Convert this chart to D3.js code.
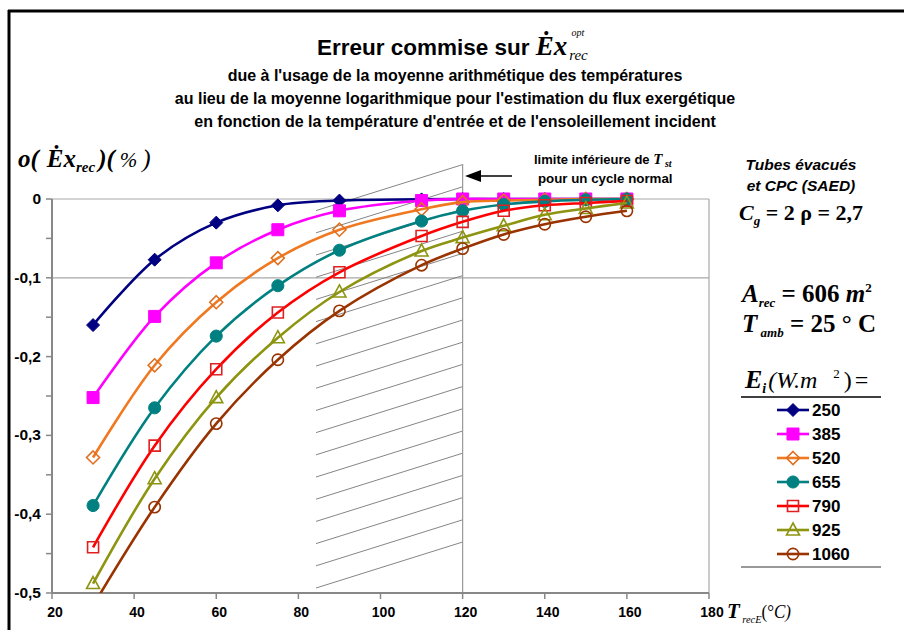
<!DOCTYPE html>
<html><head><meta charset="utf-8">
<script src="https://cdn.jsdelivr.net/npm/d3@7"></script>
<style>
html,body{margin:0;padding:0;background:#fff;}
svg{display:block;}
</style></head>
<body>
<svg id="c" width="904" height="630"></svg>
<script>
// ---- data ----
const temps = [30, 45, 60, 75, 90, 110, 120, 130, 140, 150, 160];
const irradiances = ["250", "385", "520", "655", "790", "925", "1060"];
const s250  = [-0.160, -0.077, -0.030, -0.008, -0.002, -0.0005, 0, 0, 0, 0, 0];
const s385  = [-0.252, -0.149, -0.081, -0.039, -0.015, -0.002, 0, 0, 0, 0, 0];
const s520  = [-0.328, -0.211, -0.131, -0.075, -0.039, -0.013, -0.004, -0.002, -0.001, 0, 0];
const s655  = [-0.389, -0.265, -0.174, -0.110, -0.065, -0.028, -0.015, -0.007, -0.003, -0.001, 0];
const s790  = [-0.442, -0.313, -0.216, -0.144, -0.093, -0.047, -0.029, -0.015, -0.008, -0.005, -0.0025];
const s925  = [-0.488, -0.355, -0.252, -0.176, -0.118, -0.066, -0.049, -0.034, -0.020, -0.012, -0.005];
const s1060 = [-0.516, -0.391, -0.285, -0.204, -0.142, -0.084, -0.063, -0.045, -0.032, -0.0225, -0.015];
const seriesValues = [s250, s385, s520, s655, s790, s925, s1060];
const yTicks = [0, -0.1, -0.2, -0.3, -0.4, -0.5];
const yTickLabels = ["0", "-0,1", "-0,2", "-0,3", "-0,4", "-0,5"];
const yMinorTicks = [-0.05, -0.15, -0.25, -0.35, -0.45];
const xTicks = [20, 40, 60, 80, 100, 120, 140, 160, 180];
const xTickLabels = ["20", "40", "60", "80", "100", "120", "140", "160", "180"];
const gridValues = [0, -0.1];
const limitT = 120;
const hatchFromT = 84.3;

// ---- style ----
const colors = ["#000080", "#FF00FF", "#F07820", "#008080", "#FF0000", "#8C9410", "#993300"];
const markerColors = ["#000080", "#FF00FF", "#E07020", "#008080", "#E02020", "#8C9410", "#993300"];
const symbols = ["diamond", "square", "diamondOpen", "circle", "squareOpen", "triangleOpen", "circleOpen"];
const SANS = "'Liberation Sans', Arial, sans-serif";
const SERIF = "'Liberation Serif', 'Times New Roman', serif";

const svg = d3.select("#c");
const x = d3.scaleLinear().domain([20, 180]).range([52, 709]);
const y = d3.scaleLinear().domain([-0.5, 0]).range([593, 199]);

// frame
svg.append("line").attr("x1", 8).attr("x2", 904).attr("y1", 11).attr("y2", 11).attr("stroke", "#000").attr("stroke-width", 3);
svg.append("line").attr("x1", 9).attr("x2", 9).attr("y1", 10).attr("y2", 630).attr("stroke", "#000").attr("stroke-width", 3);

// title
const t = svg.append("text").attr("x", 317).attr("y", 55).attr("font-family", SANS).attr("font-weight", "bold").attr("font-size", 22.5).attr("fill", "#000");
t.append("tspan").text("Erreur commise sur ");
t.append("tspan").attr("font-family", SERIF).attr("font-style", "italic").attr("font-size", 27).text("Ėx");
t.append("tspan").attr("font-family", SERIF).attr("font-style", "italic").attr("font-weight", "normal").attr("font-size", 10).attr("dy", -19).attr("dx", 4).text("opt");
t.append("tspan").attr("font-family", SERIF).attr("font-style", "italic").attr("font-weight", "normal").attr("font-size", 15).attr("dy", 24).attr("dx", -15).text("rec");

const subs = ["due à l'usage de la moyenne arithmétique des températures",
  "au lieu de la moyenne logarithmique pour l'estimation du flux exergétique",
  "en fonction de la température d'entrée et de l'ensoleillement incident"];
subs.forEach((s, i) => {
  svg.append("text").attr("x", 455).attr("y", 81 + i * 23).attr("text-anchor", "middle")
    .attr("font-family", SANS).attr("font-weight", "bold").attr("font-size", 16).text(s);
});

// gridlines & plot frame
gridValues.forEach(v => {
  svg.append("line").attr("x1", x(20)).attr("x2", x(180)).attr("y1", y(v)).attr("y2", y(v)).attr("stroke", "#a8a8a8").attr("stroke-width", 1.2);
});
svg.append("line").attr("x1", x(180)).attr("x2", x(180)).attr("y1", y(0)).attr("y2", y(-0.5)).attr("stroke", "#a8a8a8").attr("stroke-width", 1.2);

// hatching
const hatch = svg.append("g").attr("stroke", "#777").attr("stroke-width", 0.9);
const hatchRise = 46;
for (let k = 0; k < 18; k++) {
  const yl = y(-0.5) - 5 - k * 22.2;
  hatch.append("line").attr("x1", x(hatchFromT)).attr("y1", yl).attr("x2", x(limitT)).attr("y2", yl - hatchRise);
}
svg.append("line").attr("x1", x(limitT)).attr("x2", x(limitT)).attr("y1", 164).attr("y2", y(-0.5)).attr("stroke", "#999").attr("stroke-width", 1.2);

// axes
const yAxis = svg.append("g");
yAxis.append("line").attr("x1", x(20)).attr("x2", x(20)).attr("y1", y(0)).attr("y2", y(-0.5)).attr("stroke", "#888").attr("stroke-width", 2);
yTicks.concat(yMinorTicks).forEach(v => {
  yAxis.append("line").attr("x1", x(20) - 6).attr("x2", x(20)).attr("y1", y(v)).attr("y2", y(v)).attr("stroke", "#888").attr("stroke-width", 1.5);
});
yTicks.forEach((v, i) => {
  yAxis.append("text").attr("x", 41).attr("y", y(v) + 5).attr("text-anchor", "end").attr("font-family", SANS).attr("font-weight", "bold").attr("font-size", 15.5).text(yTickLabels[i]);
});
const xAxis = svg.append("g");
xAxis.append("line").attr("x1", x(20)).attr("x2", x(180)).attr("y1", y(-0.5)).attr("y2", y(-0.5)).attr("stroke", "#888").attr("stroke-width", 2);
xTicks.forEach((v, i) => {
  xAxis.append("line").attr("x1", x(v)).attr("x2", x(v)).attr("y1", y(-0.5)).attr("y2", y(-0.5) + 6).attr("stroke", "#888").attr("stroke-width", 1.5);
  xAxis.append("text").attr("x", x(v) + 3).attr("y", 617).attr("text-anchor", "middle").attr("font-family", SANS).attr("font-weight", "bold").attr("font-size", 14).text(xTickLabels[i]);
});

// axis titles
const yt = svg.append("text").attr("x", 18).attr("y", 167).attr("font-family", SERIF).attr("font-weight", "bold").attr("font-style", "italic").attr("font-size", 25);
yt.append("tspan").text("o(");
yt.append("tspan").attr("dx", 8).text("Ėx");
yt.append("tspan").attr("font-size", 15).attr("dy", 5).text("rec");
yt.append("tspan").attr("dy", -5).attr("dx", 3).text(")(");
yt.append("tspan").attr("font-weight", "normal").attr("font-size", 21).attr("dx", 5).text("%");
yt.append("tspan").attr("font-weight", "normal").attr("dx", 5).text(")");

const xt = svg.append("text").attr("x", 727).attr("y", 618).attr("font-family", SERIF).attr("font-style", "italic").attr("font-size", 22)
  .attr("textLength", 64).attr("lengthAdjust", "spacingAndGlyphs");
xt.append("tspan").attr("font-weight", "bold").text("T");
xt.append("tspan").attr("font-size", 11).attr("dy", 5).text(" recE");
xt.append("tspan").attr("font-size", 18).attr("dy", -5).attr("font-style", "normal").text("(°");
xt.append("tspan").attr("font-size", 18).text("C)");

// series
svg.append("clipPath").attr("id", "clip").append("rect").attr("x", x(20)).attr("y", 150).attr("width", x(180) - x(20)).attr("height", y(-0.5) - 150);
const line = d3.line().x(d => x(d[0])).y(d => y(d[1])).curve(d3.curveCatmullRom.alpha(0.5));
const plot = svg.append("g").attr("clip-path", "url(#clip)");

function drawMarker(g, type, cx, cy, color) {
  const open = type.endsWith("Open");
  const base = type.replace("Open", "");
  let d;
  if (base === "diamond") { const r = 6.5; d = `M0,${-r}L${r},0L0,${r}L${-r},0Z`; }
  else if (base === "square") { const r = open ? 5.5 : 6; d = `M${-r},${-r}H${r}V${r}H${-r}Z`; }
  else if (base === "circle") { d = d3.symbol().type(d3.symbolCircle).size(open ? 100 : 115)(); }
  else { d = "M0,-7L6.5,5L-6.5,5Z"; }
  g.append("path").attr("d", d)
    .attr("transform", `translate(${cx},${cy})`)
    .attr("fill", open ? "none" : color)
    .attr("stroke", color).attr("stroke-width", open ? 1.6 : 1);
}

seriesValues.forEach((vals, si) => {
  const pts = temps.map((t, i) => [t, vals[i]]);
  plot.append("path").attr("d", line(pts)).attr("fill", "none").attr("stroke", colors[si]).attr("stroke-width", 2.6);
  pts.forEach(p => drawMarker(plot, symbols[si], x(p[0]), y(p[1]), markerColors[si]));
});

// arrow annotation
svg.append("line").attr("x1", 512).attr("x2", 478).attr("y1", 176).attr("y2", 176).attr("stroke", "#000").attr("stroke-width", 1.5);
svg.append("path").attr("d", "M465,176 L481,170 L481,182 Z").attr("fill", "#000");
const a1 = svg.append("text").attr("x", 534).attr("y", 164).attr("font-family", SANS).attr("font-weight", "bold").attr("font-size", 13);
a1.append("tspan").text("limite inférieure de ");
a1.append("tspan").attr("font-family", SERIF).attr("font-style", "italic").attr("font-size", 15).text("T");
a1.append("tspan").attr("font-family", SERIF).attr("font-style", "italic").attr("font-size", 10).attr("dy", 3).text(" st");
svg.append("text").attr("x", 538).attr("y", 183).attr("font-family", SANS).attr("font-weight", "bold").attr("font-size", 13.3).text("pour un cycle normal");

// right side annotations
svg.append("text").attr("x", 801).attr("y", 170).attr("text-anchor", "middle").attr("font-family", SANS).attr("font-weight", "bold").attr("font-style", "italic").attr("font-size", 15.5).text("Tubes évacués");
svg.append("text").attr("x", 801).attr("y", 191).attr("text-anchor", "middle").attr("font-family", SANS).attr("font-weight", "bold").attr("font-style", "italic").attr("font-size", 15.5).text("et CPC (SAED)");
const cg = svg.append("text").attr("x", 739).attr("y", 220).attr("font-family", SERIF).attr("font-weight", "bold").attr("font-size", 22);
cg.append("tspan").attr("font-style", "italic").text("C");
cg.append("tspan").attr("font-style", "italic").attr("font-size", 13).attr("dy", 5).text("g");
cg.append("tspan").attr("dy", -5).text(" = 2 ρ = 2,7");

const ar = svg.append("text").attr("x", 742).attr("y", 302).attr("font-family", SERIF).attr("font-weight", "bold").attr("font-size", 25);
ar.append("tspan").attr("font-style", "italic").text("A");
ar.append("tspan").attr("font-style", "italic").attr("font-size", 13).attr("dy", 5).text("rec");
ar.append("tspan").attr("dy", -5).text(" = 606 ");
ar.append("tspan").attr("font-style", "italic").text("m");
ar.append("tspan").attr("font-size", 13).attr("dy", -10).text("2");

const ta = svg.append("text").attr("x", 742).attr("y", 332).attr("font-family", SERIF).attr("font-weight", "bold").attr("font-size", 25);
ta.append("tspan").attr("font-style", "italic").text("T");
ta.append("tspan").attr("font-style", "italic").attr("font-size", 13).attr("dy", 5).text(" amb");
ta.append("tspan").attr("dy", -5).text(" = 25 ° C");

const ei = svg.append("text").attr("x", 745).attr("y", 388).attr("font-family", SERIF).attr("font-weight", "bold").attr("font-size", 26);
ei.append("tspan").attr("font-style", "italic").text("E");
ei.append("tspan").attr("font-style", "italic").attr("font-size", 14).attr("dy", 5).text("i");
ei.append("tspan").attr("dy", -5).attr("dx", 2).attr("font-style", "italic").attr("font-weight", "normal").attr("font-size", 24).text("(W.m");
ei.append("tspan").attr("font-weight", "normal").attr("font-size", 13).attr("dy", -10).attr("dx", 16).text("2");
ei.append("tspan").attr("font-weight", "normal").attr("font-size", 24).attr("dy", 10).attr("dx", 4).text(")");
ei.append("tspan").attr("font-weight", "normal").attr("font-size", 24).attr("dx", 3).text("=");

// legend
svg.append("line").attr("x1", 741).attr("x2", 881).attr("y1", 397).attr("y2", 397).attr("stroke", "#000").attr("stroke-width", 1.5);
svg.append("line").attr("x1", 741).attr("x2", 881).attr("y1", 567).attr("y2", 567).attr("stroke", "#999").attr("stroke-width", 2);
const leg = svg.append("g");
irradiances.forEach((lab, i) => {
  const ly = 410 + i * 24;
  leg.append("line").attr("x1", 777).attr("x2", 809).attr("y1", ly).attr("y2", ly).attr("stroke", colors[i]).attr("stroke-width", 2.6);
  drawMarker(leg, symbols[i], 793, ly, markerColors[i]);
  leg.append("text").attr("x", 812).attr("y", ly + 6).attr("font-family", SANS).attr("font-weight", "bold").attr("font-size", 17).text(lab);
});
</script>
</body></html>
